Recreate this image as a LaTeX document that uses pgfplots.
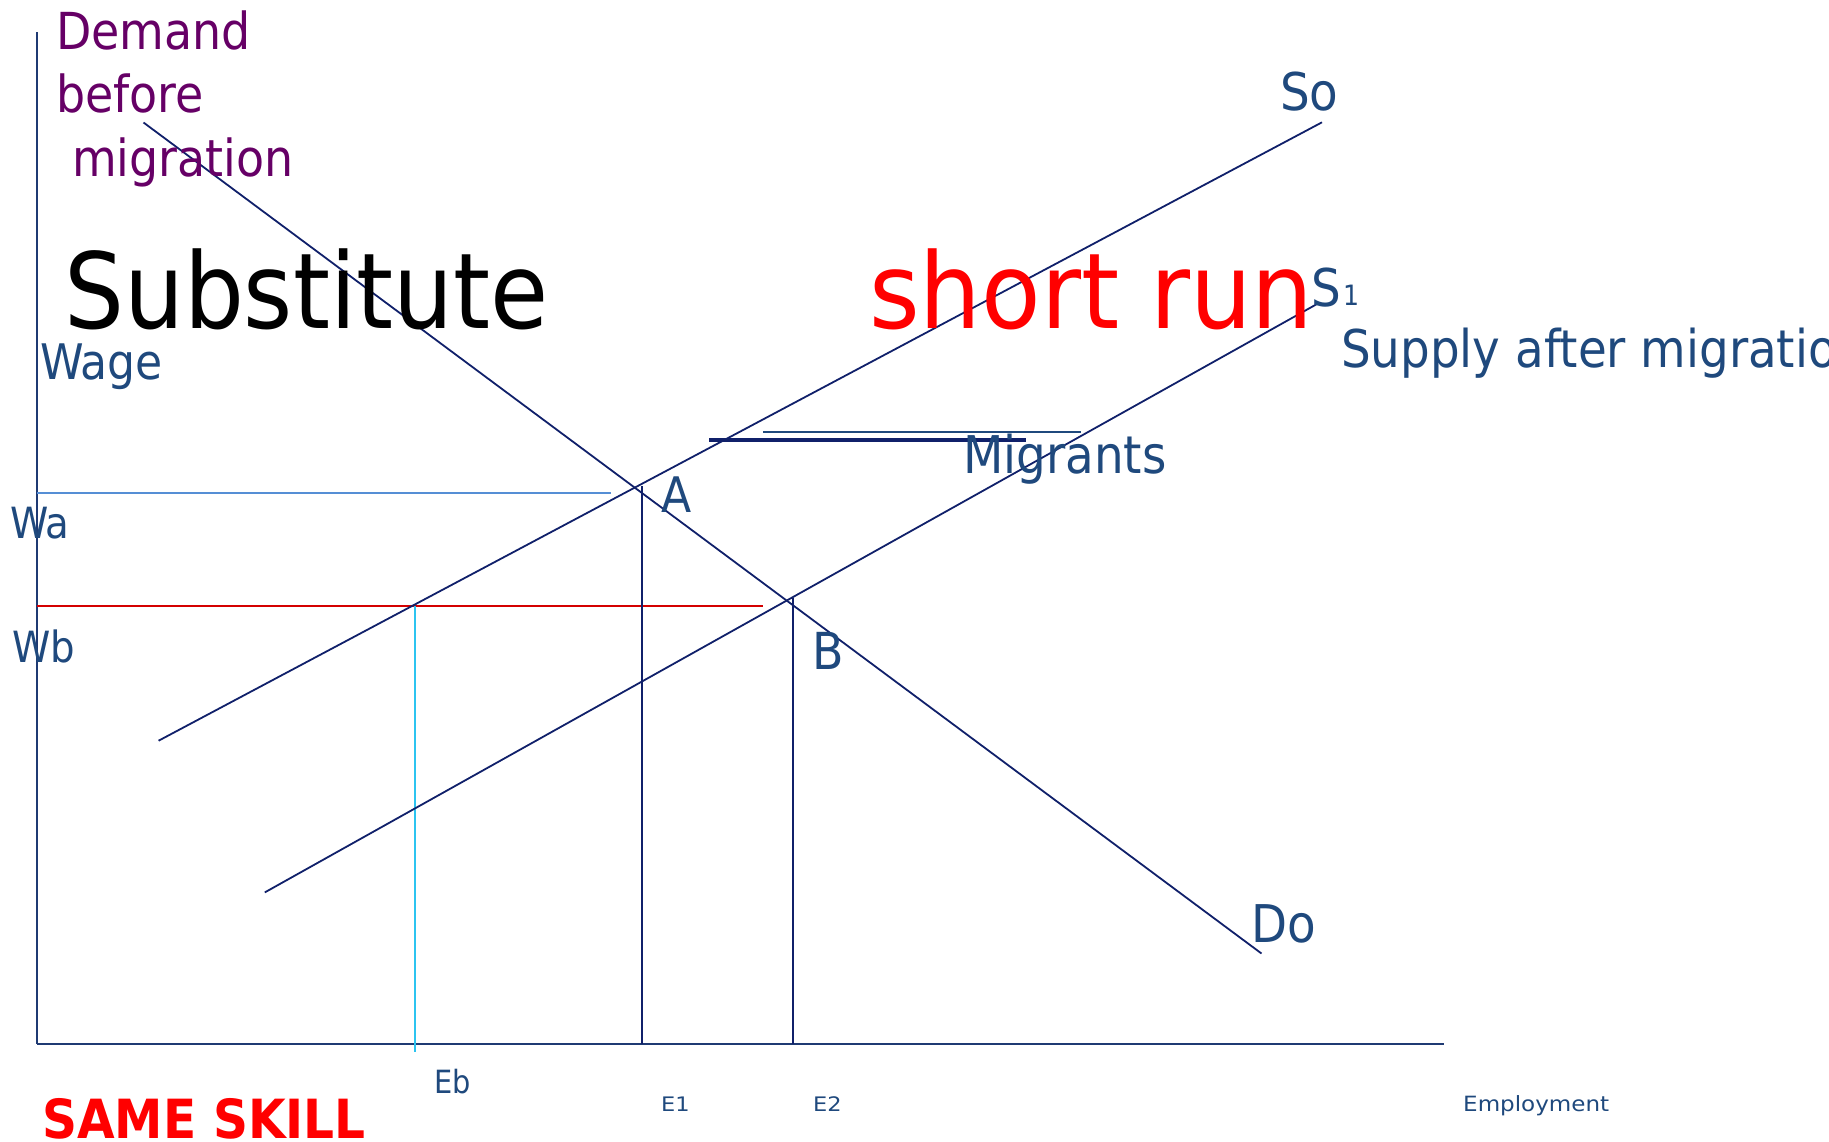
\documentclass[border=0pt]{standalone}
\usepackage{pgfplots}
\pgfplotsset{compat=1.18}
\usepackage{fontspec}
\setmainfont{DejaVu Sans Condensed}
\definecolor{navy}{HTML}{10206A}
\definecolor{axisc}{HTML}{1F3A73}
\definecolor{tblue}{HTML}{1F497D}
\definecolor{purp}{HTML}{660066}
\definecolor{lblue}{HTML}{558ED5}
\definecolor{cyanl}{HTML}{2CC4F0}
\definecolor{redl}{HTML}{D40000}
\newcommand{\fs}[1]{\fontsize{#1}{#1}\selectfont}
\begin{document}
\begin{tikzpicture}
\begin{axis}[hide axis, scale only axis, width=1829pt, height=1141pt,
  xmin=0, xmax=1829, ymin=0, ymax=1141, y dir=reverse, clip=false]
% axes
\addplot[draw=axisc, line width=1.6pt] coordinates {(37,32) (37,1044)};
\addplot[draw=axisc, line width=2.6pt] coordinates {(37,1044) (1444,1044)};
% guide lines
\addplot[draw=lblue, line width=2pt] coordinates {(37,493) (611,493)};
\addplot[draw=redl, line width=2.2pt] coordinates {(37,606) (763,606)};
\addplot[draw=cyanl, line width=1.8pt] coordinates {(415,606) (415,1052)};
\addplot[draw=navy, line width=1.6pt] coordinates {(642,486) (642,1044)};
\addplot[draw=navy, line width=1.6pt] coordinates {(793,598) (793,1044)};
% curves
\addplot[draw=navy, line width=1.8pt] coordinates {(143.5,122.5) (1261.5,953.5)};
\addplot[draw=navy, line width=1.8pt] coordinates {(158.6,740.7) (1322,122.3)};
\addplot[draw=navy, line width=1.8pt] coordinates {(264.8,892.4) (1317,304)};
% migrants arrows
\addplot[draw=navy, line width=4.5pt] coordinates {(709,440) (1026,440)};
\addplot[draw=tblue, line width=2pt] coordinates {(763,432) (1081,432)};
% texts
\node[anchor=base west, inner sep=0, text=purp, font=\fs{51}] at (56,49) {Demand};
\node[anchor=base west, inner sep=0, text=purp, font=\fs{51}] at (56,112) {before};
\node[anchor=base west, inner sep=0, text=purp, font=\fs{51}] at (72,176) {migration};
\node[anchor=base west, inner sep=0, text=black, font=\fs{105}] at (64,328) {Substitute};
\node[anchor=base west, inner sep=0, text=red, font=\fs{105}] at (869,328) {\scalebox{1.03}[1]{short run}};
\node[anchor=base west, inner sep=0, text=tblue, font=\fs{49}] at (40,379) {Wage};
\node[anchor=base west, inner sep=0, text=tblue, font=\fs{52}] at (1280,110) {So};
\node[anchor=base west, inner sep=0, text=tblue, font=\fs{52}] at (1311,306) {S};
\node[anchor=base west, inner sep=0, text=tblue, font=\fs{28}] at (1343,305) {1};
\node[anchor=base west, inner sep=0, text=tblue, font=\fs{52}] at (1341,367) {Supply after migration};
\node[anchor=base west, inner sep=0, text=tblue, font=\fs{52}] at (963,473) {Migrants};
\node[anchor=base west, inner sep=0, text=tblue, font=\fs{49}] at (661,512) {A};
\node[anchor=base west, inner sep=0, text=tblue, font=\fs{51}] at (812,669) {B};
\node[anchor=base west, inner sep=0, text=tblue, font=\fs{43}] at (10,538) {Wa};
\node[anchor=base west, inner sep=0, text=tblue, font=\fs{43}] at (12,662) {Wb};
\node[anchor=base west, inner sep=0, text=tblue, font=\fs{52}] at (1251,942) {Do};
\node[anchor=base west, inner sep=0, text=tblue, font=\fs{32}] at (434,1093) {Eb};
\node[anchor=base west, inner sep=0, text=tblue, font=\fs{20}] at (661,1111) {\scalebox{1.25}[1]{E1}};
\node[anchor=base west, inner sep=0, text=tblue, font=\fs{20}] at (813,1111) {\scalebox{1.25}[1]{E2}};
\node[anchor=base west, inner sep=0, text=tblue, font=\fs{21}] at (1463,1111) {\scalebox{1.22}[1]{Employment}};
\node[anchor=base west, inner sep=0, text=red, font=\bfseries\fs{54}] at (42,1138) {SAME SKILL};
\end{axis}
\pgfresetboundingbox
\path[use as bounding box] (current axis.south west) rectangle (current axis.north east);
\end{tikzpicture}
\end{document}
